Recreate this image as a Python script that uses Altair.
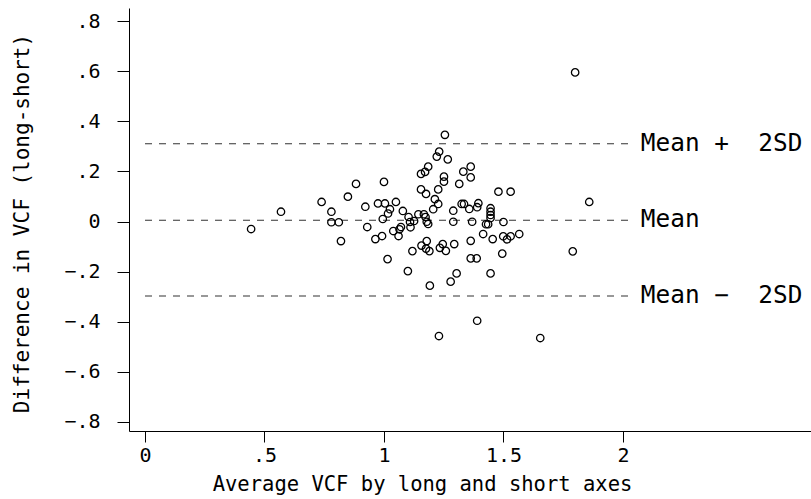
import altair as alt
import pandas as pd

# Scatter data: average VCF (x) and difference long-short (y)
avg_vcf = [0.444, 0.569, 0.739, 0.780, 0.780, 0.811, 0.820, 0.849, 0.883, 0.922,
           0.930, 0.964, 0.975, 0.992, 0.995, 1.000, 1.004, 1.017, 1.025, 1.015,
           1.039, 1.050, 1.061, 1.065, 1.071, 1.079, 1.100, 1.109, 1.111, 1.103,
           1.126, 1.119, 1.144, 1.157, 1.155, 1.172, 1.185, 1.155, 1.176, 1.167,
           1.176, 1.179, 1.192, 1.255, 1.231, 1.221, 1.267, 1.251, 1.251, 1.332,
           1.363, 1.363, 1.315, 1.227, 1.479, 1.530, 1.213, 1.227, 1.206, 1.290,
           1.325, 1.335, 1.357, 1.395, 1.390, 1.446, 1.446, 1.446, 1.174, 1.185,
           1.290, 1.369, 1.427, 1.436, 1.500, 1.415, 1.455, 1.499, 1.515, 1.530,
           1.566, 1.363, 1.294, 1.246, 1.234, 1.259, 1.179, 1.190, 1.363, 1.388,
           1.495, 1.304, 1.279, 1.446, 1.390, 1.230, 1.654, 1.800, 1.859, 1.790,
           1.446]
diff_vcf = [-0.030, 0.039, 0.078, 0.039, -0.003, -0.003, -0.078, 0.099, 0.150, 0.059,
            -0.022, -0.070, 0.072, -0.058, 0.010, 0.158, 0.072, 0.032, 0.049, -0.150,
            -0.038, 0.078, -0.058, -0.031, -0.022, 0.042, -0.198, -0.002, -0.023, 0.018,
            0.002, -0.118, 0.029, -0.096, 0.190, 0.198, 0.219, 0.128, 0.110, 0.029,
            -0.108, -0.001, -0.256, 0.346, 0.279, 0.259, 0.248, 0.179, 0.159, 0.199,
            0.219, 0.176, 0.150, 0.128, 0.119, 0.119, 0.089, 0.070, 0.049, 0.043,
            0.070, 0.070, 0.050, 0.073, 0.057, 0.053, 0.039, 0.026, 0.018, -0.010,
            -0.001, -0.001, -0.011, -0.011, -0.002, -0.050, -0.070, -0.059, -0.071, -0.059,
            -0.050, -0.077, -0.090, -0.090, -0.105, -0.117, -0.078, -0.118, -0.147, -0.147,
            -0.128, -0.207, -0.240, -0.207, -0.396, -0.457, -0.465, 0.595, 0.078, -0.119,
            0.014]

# Reference lines
line_labels = ["Mean +\u00a0 2SD", "Mean", "Mean \u2212\u00a0 2SD"]
line_values = [0.310, 0.005, -0.297]
line_start = [0.0, 0.0, 0.0]
line_end = [2.03, 2.03, 2.03]
label_x = [2.075, 2.075, 2.075]

x_ticks = [0, 0.5, 1, 1.5, 2]
y_ticks = [-0.8, -0.6, -0.4, -0.2, 0, 0.2, 0.4, 0.6, 0.8]

FONT = "DejaVu Sans Mono"

pts = pd.DataFrame({"avg": avg_vcf, "diff": diff_vcf})
lines = pd.DataFrame({"label": line_labels, "y": line_values,
                      "x1": line_start, "x2": line_end, "lx": label_x})

xscale = alt.Scale(domain=[-0.067, 2.787], nice=False, zero=False)
yscale = alt.Scale(domain=[-0.836, 0.852], nice=False, zero=False)

xaxis = alt.Axis(values=x_ticks, grid=False, tickSize=11, tickColor="black",
                 domainColor="black", labelFont=FONT, labelFontSize=20,
                 labelColor="black", labelPadding=3,
                 labelExpr="datum.value == 0.5 ? '.5' : toString(datum.value)",
                 title="Average VCF by long and short axes", titleFont=FONT,
                 titleFontSize=20.5, titleFontWeight="normal", titleColor="black",
                 titleX=293, titleY=53, titleAlign="center", titleBaseline="middle")
yaxis = alt.Axis(values=y_ticks, grid=False, tickSize=12, tickColor="black",
                 domainColor="black", labelFont=FONT, labelFontSize=20,
                 labelColor="black", labelPadding=17,
                 labelExpr="datum.value == 0 ? '0' : (datum.value < 0 ? '\u2212' + substring(format(abs(datum.value), '.1f'), 1) : substring(format(datum.value, '.1f'), 1))",
                 title="Difference in VCF (long-short)", titleFont=FONT,
                 titleFontSize=21, titleFontWeight="normal", titleColor="black",
                 titleX=-107, titleY=215, titleAngle=-90, titleAlign="center",
                 titleBaseline="middle")

points = alt.Chart(pts).mark_point(shape="circle", filled=False, color="black",
                                   size=55, strokeWidth=1.3, opacity=1).encode(
    x=alt.X("avg:Q", scale=xscale, axis=xaxis),
    y=alt.Y("diff:Q", scale=yscale, axis=yaxis),
)

rules = alt.Chart(lines).mark_rule(color="#333333", strokeWidth=1.1,
                                   strokeDash=[7, 7]).encode(
    x=alt.X("x1:Q", scale=xscale),
    x2="x2:Q",
    y=alt.Y("y:Q", scale=yscale),
)

texts = alt.Chart(lines).mark_text(align="left", baseline="middle", font=FONT,
                                   fontSize=24.4, color="black").encode(
    x=alt.X("lx:Q", scale=xscale),
    y=alt.Y("y:Q", scale=yscale),
    text="label:N",
)

chart = (rules + points + texts).properties(
    width=682, height=423,
    padding={"left": 129, "top": 8, "right": 0, "bottom": 68},
    autosize=alt.AutoSizeParams(type="none"),
    background="white",
).configure_view(stroke=None)

chart.save("out.html", embed_options={"renderer": "svg", "actions": False})
